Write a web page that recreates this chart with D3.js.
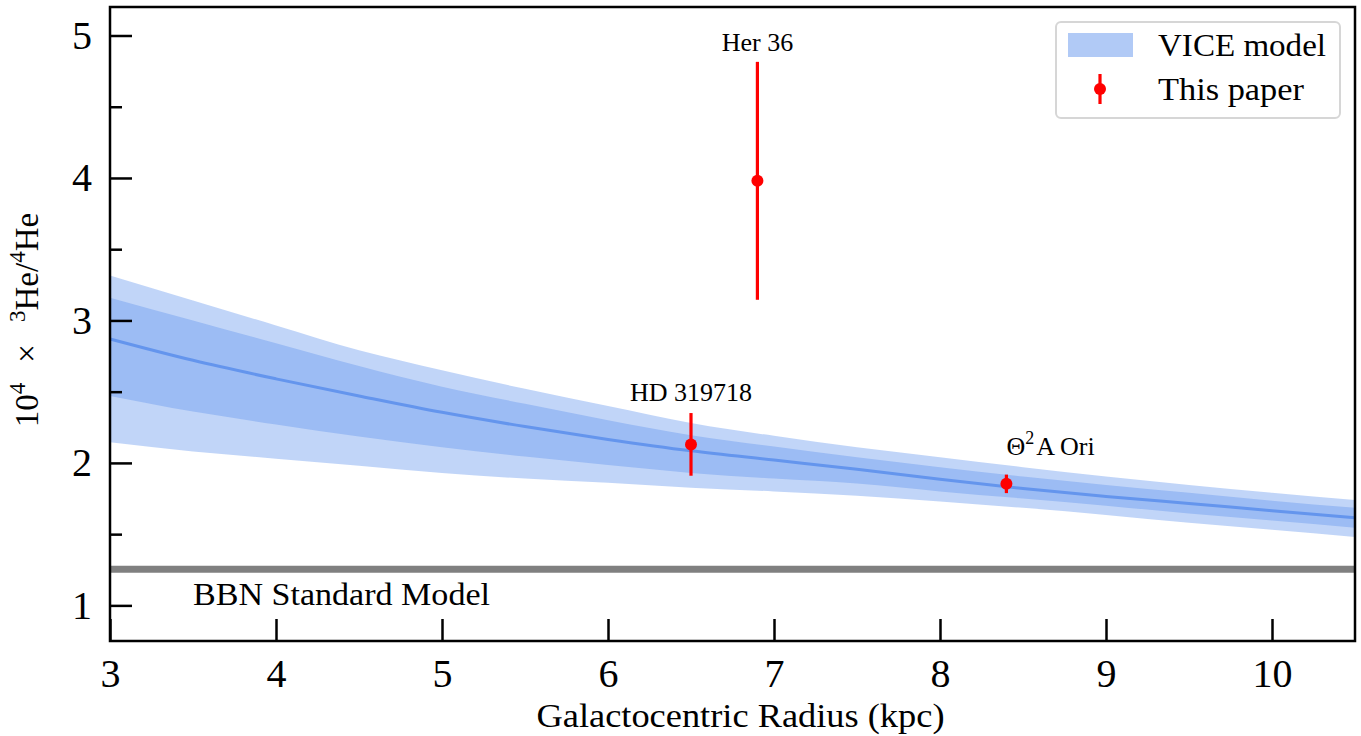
<!DOCTYPE html>
<html>
<head>
<meta charset="utf-8">
<script src="https://cdn.jsdelivr.net/npm/d3@7"></script>
<style>
  body { margin: 0; background: #fff; }
  svg { display: block; font-family: "Liberation Serif", "DejaVu Serif", serif; }
</style>
</head>
<body>
<svg id="chart" width="1361" height="736"></svg>
<script>
// model grid (kpc)
var radius = [3, 3.5, 4, 4.5, 5, 5.5, 6, 6.5, 7, 7.5, 8, 8.5, 9, 9.5, 10, 10.5];
// VICE model, 10^4 x 3He/4He
var modelMean  = [2.87, 2.72, 2.59, 2.47, 2.355, 2.255, 2.165, 2.085, 2.02, 1.955, 1.885, 1.82, 1.765, 1.715, 1.665, 1.615];
var innerHigh  = [3.16, 3.00, 2.84, 2.68, 2.535, 2.415, 2.30, 2.195, 2.115, 2.04, 1.97, 1.905, 1.845, 1.79, 1.735, 1.685];
var innerLow   = [2.47, 2.36, 2.27, 2.185, 2.11, 2.045, 1.985, 1.93, 1.89, 1.855, 1.80, 1.75, 1.70, 1.645, 1.595, 1.545];
var outerHigh  = [3.316, 3.14, 2.965, 2.79, 2.65, 2.52, 2.40, 2.28, 2.19, 2.11, 2.04, 1.97, 1.905, 1.845, 1.79, 1.74];
var outerLow   = [2.145, 2.08, 2.03, 1.98, 1.93, 1.89, 1.86, 1.825, 1.80, 1.77, 1.73, 1.685, 1.635, 1.58, 1.53, 1.48];

// measurements
var starNames  = ["Her 36", "HD 319718", "\u0398\u00b2A Ori"];
var starRadius = [6.9, 6.5, 8.4];
var starRatio  = [3.98, 2.13, 1.853];
var starErr    = [0.835, 0.22, 0.065];

var bbnRatio = 1.253;

var xTicks = [3, 4, 5, 6, 7, 8, 9, 10];
var yTicks = [1, 2, 3, 4, 5];
var yMinor = [1.5, 2.5, 3.5, 4.5];

var padL = 110, padR = 1355, padT = 7, padB = 641;
var blue = "#6495ed", red = "#ff0000";

var svg = d3.select("#chart");

var x = d3.scaleLinear().domain([3, 10.5]).range([padL, padR]);
var y = d3.scaleLinear().domain([0.75, 5.2]).range([padB, padT]);

var model = radius.map(function (r, i) {
	return {r: r, m: modelMean[i], ih: innerHigh[i], il: innerLow[i], oh: outerHigh[i], ol: outerLow[i]};
});

var plot = svg.append("g");

plot.append("path").datum(model)
	.attr("fill", blue).attr("fill-opacity", 0.4)
	.attr("d", d3.area().curve(d3.curveMonotoneX).x(function (d) { return x(d.r); })
		.y0(function (d) { return y(d.ol); }).y1(function (d) { return y(d.oh); }));

plot.append("path").datum(model)
	.attr("fill", blue).attr("fill-opacity", 0.4)
	.attr("d", d3.area().curve(d3.curveMonotoneX).x(function (d) { return x(d.r); })
		.y0(function (d) { return y(d.il); }).y1(function (d) { return y(d.ih); }));

plot.append("path").datum(model)
	.attr("fill", "none").attr("stroke", blue).attr("stroke-width", 3)
	.attr("d", d3.line().curve(d3.curveMonotoneX).x(function (d) { return x(d.r); }).y(function (d) { return y(d.m); }));

// BBN line
plot.append("line")
	.attr("x1", x(3)).attr("x2", x(10.5))
	.attr("y1", y(bbnRatio)).attr("y2", y(bbnRatio))
	.attr("stroke", "#808080").attr("stroke-width", 7);

svg.append("text")
	.attr("x", 193).attr("y", 605)
	.attr("font-size", 32)
	.attr("textLength", 297).attr("lengthAdjust", "spacingAndGlyphs")
	.text("BBN Standard Model");

// error bars and points
var stars = starNames.map(function (n, i) {
	return {name: n, r: starRadius[i], v: starRatio[i], e: starErr[i]};
});

var pts = plot.selectAll(".star").data(stars).enter().append("g").attr("class", "star");
pts.append("line")
	.attr("x1", function (d) { return x(d.r); }).attr("x2", function (d) { return x(d.r); })
	.attr("y1", function (d) { return y(d.v - d.e); }).attr("y2", function (d) { return y(d.v + d.e); })
	.attr("stroke", red).attr("stroke-width", 3.2);
pts.append("circle")
	.attr("cx", function (d) { return x(d.r); }).attr("cy", function (d) { return y(d.v); })
	.attr("r", 6).attr("fill", red);

// star labels
svg.append("text").attr("font-size", 26).attr("text-anchor", "middle")
	.attr("x", x(stars[0].r)).attr("y", y(stars[0].v + stars[0].e) - 11)
	.text(stars[0].name);
svg.append("text").attr("font-size", 26).attr("text-anchor", "middle")
	.attr("x", x(stars[1].r)).attr("y", y(stars[1].v + stars[1].e) - 12)
	.text(stars[1].name);
var lab3 = svg.append("text").attr("font-size", 26)
	.attr("x", x(stars[2].r)).attr("y", y(stars[2].v + stars[2].e) - 20);
lab3.append("tspan").text("\u0398");
lab3.append("tspan").attr("font-size", 18).attr("dy", -11).text("2");
lab3.append("tspan").attr("dy", 11).attr("dx", 2).text("A Ori");

// axes
var xAxis = d3.axisBottom(x).tickValues(xTicks).tickSize(-22).tickPadding(18).tickFormat(d3.format("d"));
var yAxis = d3.axisLeft(y).tickValues(yTicks).tickSize(-22).tickPadding(18).tickFormat(d3.format("d"));
var yAxisMinor = d3.axisLeft(y).tickValues(yMinor).tickSize(-12).tickFormat("");

var gx = svg.append("g").attr("transform", "translate(0," + padB + ")").call(xAxis);
var gy = svg.append("g").attr("transform", "translate(" + padL + ",0)").call(yAxis);
var gym = svg.append("g").attr("transform", "translate(" + padL + ",0)").call(yAxisMinor);
[gx, gy, gym].forEach(function (g) {
	g.select(".domain").remove();
	g.selectAll(".tick line").attr("stroke", "#000").attr("stroke-width", 2.5);
	g.selectAll(".tick text").attr("fill", "#000").attr("font-size", 40)
		.attr("font-family", "Liberation Serif, serif");
});

// frame
svg.append("rect")
	.attr("x", padL).attr("y", padT)
	.attr("width", padR - padL).attr("height", padB - padT)
	.attr("fill", "none").attr("stroke", "#000").attr("stroke-width", 2.5);

// axis titles
svg.append("text")
	.attr("x", (padL + padR) / 2 + 8).attr("y", 727)
	.attr("text-anchor", "middle").attr("font-size", 33)
	.attr("textLength", 408).attr("lengthAdjust", "spacingAndGlyphs")
	.text("Galactocentric Radius (kpc)");

var yl = svg.append("text")
	.attr("transform", "translate(38," + ((padT + padB) / 2 - 4) + ") rotate(-90)")
	.attr("text-anchor", "middle").attr("font-size", 33);
yl.append("tspan").text("10");
yl.append("tspan").attr("font-size", 23).attr("dy", -13).text("4");
yl.append("tspan").attr("dy", 13).attr("dx", 20).text("\u00d7");
yl.append("tspan").attr("font-size", 23).attr("dy", -13).attr("dx", 22).text("3");
yl.append("tspan").attr("dy", 13).text("He/");
yl.append("tspan").attr("font-size", 23).attr("dy", -13).text("4");
yl.append("tspan").attr("dy", 13).text("He");

// legend
var leg = svg.append("g");
leg.append("rect")
	.attr("x", 1056).attr("y", 22).attr("width", 284).attr("height", 96).attr("rx", 5)
	.attr("fill", "#fff").attr("fill-opacity", 0.8)
	.attr("stroke", "#d6d6d6").attr("stroke-width", 2);
leg.append("rect")
	.attr("x", 1068).attr("y", 33).attr("width", 65).attr("height", 24)
	.attr("fill", blue).attr("fill-opacity", 0.5);
leg.append("line")
	.attr("x1", 1100).attr("x2", 1100).attr("y1", 74).attr("y2", 104)
	.attr("stroke", red).attr("stroke-width", 3.2);
leg.append("circle").attr("cx", 1100).attr("cy", 89).attr("r", 6).attr("fill", red);
leg.append("text").attr("x", 1158).attr("y", 56).attr("font-size", 32)
	.attr("textLength", 168).attr("lengthAdjust", "spacingAndGlyphs").text("VICE model");
leg.append("text").attr("x", 1158).attr("y", 100).attr("font-size", 32)
	.attr("textLength", 146).attr("lengthAdjust", "spacingAndGlyphs").text("This paper");
</script>
</body>
</html>
